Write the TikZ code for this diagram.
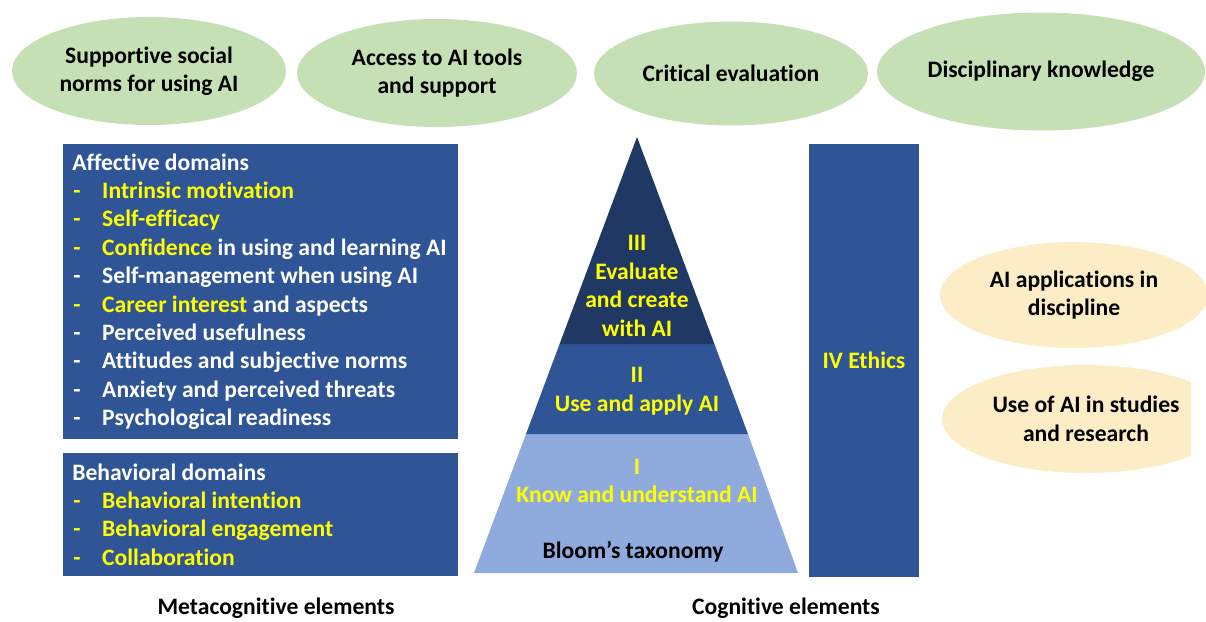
\documentclass[tikz,border=0pt]{standalone}
\usepackage{fontspec}
\setmainfont{Carlito}[Ligatures=NoCommon, RawFeature={-liga;-dlig;-calt}]
\usetikzlibrary{shapes.geometric}
\definecolor{ellgreen}{HTML}{C5E0B4}
\definecolor{ellgold}{HTML}{FCEDC6}
\definecolor{boxblue}{HTML}{2F5597}
\definecolor{darkblue}{HTML}{203864}
\definecolor{lightblue}{HTML}{8FAADC}
\definecolor{yl}{HTML}{FFFF00}
\newcommand{\fnt}{\bfseries\fontsize{17.7}{21.3}\selectfont}
\tikzset{
  ell/.style={ellipse, inner sep=0pt, align=center, font=\fnt, text=black},
  greenell/.style={ell, fill=ellgreen},
  goldell/.style={ell, fill=ellgold},
  bluebox/.style={rectangle, fill=boxblue, inner sep=0pt},
  item/.style={anchor=base west, inner sep=0pt, font=\fnt, text=white},
  pyrtext/.style={align=center, inner sep=0pt, font=\fnt, text=yl},
  caption/.style={anchor=base, inner sep=0pt, font=\fnt, text=black}
}
\newcommand{\dsh}{\makebox[21.75pt][l]{-}}
\begin{document}
\begin{tikzpicture}[x=0.75pt,y=-0.75pt]
\useasboundingbox (0,0) rectangle (1206,621);
\clip (0,0) rectangle (1206,621);

% top ellipses
\node[greenell, minimum width=205.5pt, minimum height=81pt] (e1) at (149,71) {Supportive social\\norms for using AI};
\node[greenell, minimum width=210pt, minimum height=81pt] (e2) at (437,73) {Access to AI tools\\and support};
\node[greenell, minimum width=205.5pt, minimum height=78pt] (e3) at (731,73.5) {Critical evaluation};
\node[greenell, minimum width=246pt, minimum height=88.5pt] (e4) at (1041,71.5) {Disciplinary knowledge};

% right ellipses
\node[goldell, minimum width=201pt, minimum height=79.5pt] (ea) at (1074,295) {AI applications in\\discipline};
\begin{scope}
\clip (900,350) rectangle (1191,480);
\node[goldell, minimum width=216pt, minimum height=81pt] (eb) at (1086,419) {Use of AI in studies\\and research};
\end{scope}

% left boxes
\node[bluebox, minimum width=296.25pt, minimum height=221.25pt] (aff) at (260.5,291.5) {};
\node[bluebox, minimum width=296.25pt, minimum height=92.25pt] (beh) at (260.5,514.5) {};

\node[item] (a0) at (72,170) {Affective domains};
\node[item] (a1) at (73,198.4) {\textcolor{yl}{\dsh Intrinsic motivation}};
\node[item] (a2) at (73,226.8) {\textcolor{yl}{\dsh Self-efficacy}};
\node[item] (a3) at (73,255.2) {\textcolor{yl}{\dsh Confidence} in using and learning AI};
\node[item] (a4) at (73,283.6) {\dsh Self-management when using AI};
\node[item] (a5) at (73,312) {\textcolor{yl}{\dsh Career interest} and aspects};
\node[item] (a6) at (73,340.4) {\dsh Perceived usefulness};
\node[item] (a7) at (73,368.8) {\dsh Attitudes and subjective norms};
\node[item] (a8) at (73,397.2) {\dsh Anxiety and perceived threats};
\node[item] (a9) at (73,425.6) {\dsh Psychological readiness};

\node[item] (b0) at (72,480) {Behavioral domains};
\node[item] (b1) at (73,508.4) {\textcolor{yl}{\dsh Behavioral intention}};
\node[item] (b2) at (73,536.8) {\textcolor{yl}{\dsh Behavioral engagement}};
\node[item] (b3) at (73,565.2) {\textcolor{yl}{\dsh Collaboration}};

% pyramid
\coordinate (apex) at (637,137);
\coordinate (l3) at (559.6,344);
\coordinate (r3) at (714.4,344);
\coordinate (l2) at (526,434);
\coordinate (r2) at (748,434);
\coordinate (l1) at (474,573);
\coordinate (r1) at (798,573);
\fill[lightblue] (l2) -- (r2) -- (r1) -- (l1) -- cycle;
\fill[boxblue] (l3) -- (r3) -- (r2) -- (l2) -- cycle;
\fill[darkblue] (apex) -- (r3) -- (l3) -- cycle;

\node[pyrtext] (t3) at (637,286) {III\\Evaluate\\and create\\with AI};
\node[pyrtext] (t2) at (637,391) {II\\Use and apply AI};
\node[pyrtext] (t1) at (637,481) {I\\Know and understand AI};
\node[pyrtext, text=black] (bloom) at (633,552) {Bloom’s taxonomy};

% ethics
\node[bluebox, minimum width=82.5pt, minimum height=324.75pt, text=yl, font=\fnt] (eth) at (864,360.5) {IV Ethics};

% captions
\node[caption] (meta) at (276,614.5) {Metacognitive elements};
\node[caption] (cog) at (786,614.5) {Cognitive elements};
\end{tikzpicture}
\end{document}
